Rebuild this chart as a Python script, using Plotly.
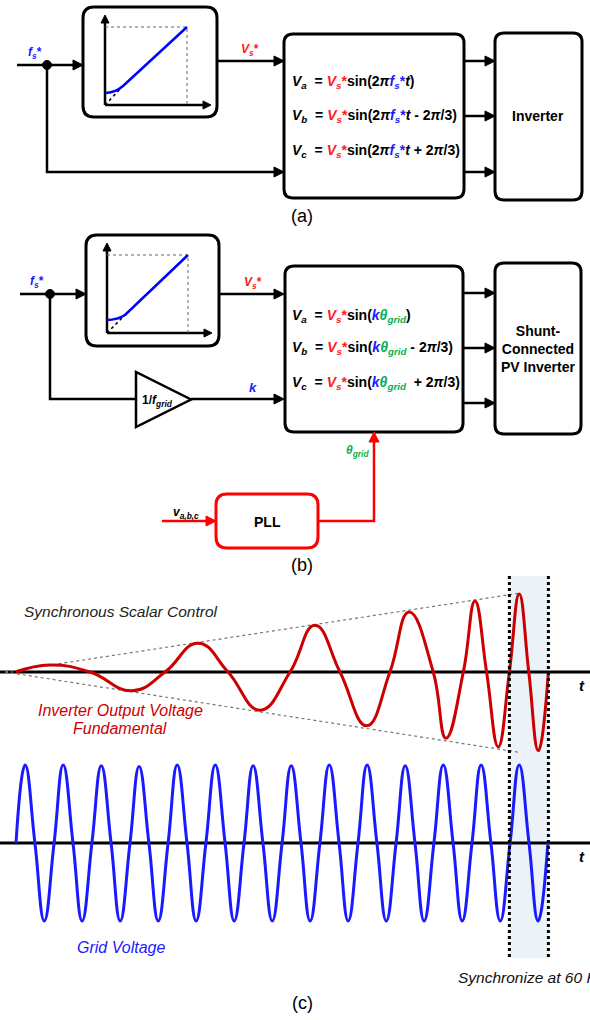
import plotly.graph_objects as go

# ---------------- data for panel (c) ----------------
# time in ms, voltage in per-unit of the grid amplitude
inv_t = [0.0, 14.9, 32.5, 50.9, 65.4, 79.8, 93.0, 107.0, 120.2, 131.1, 142.1, 153.8, 164.0,
         172.4, 183.0, 188.6, 196.2, 201.3, 206.4, 211.5, 216.4, 220.7, 224.9, 229.1, 233.5]
inv_v = [0.0, 0.09, 0.0, -0.24, 0.0, 0.37, 0.0, -0.49, 0.0, 0.60, 0.0, -0.69, 0.0,
         0.77, 0.0, -0.85, 0.0, 0.91, 0.0, -0.96, 0.0, 1.0, 0.0, -1.01, 0.0]

grid_t = [0.0, 4.0, 8.3, 12.4, 16.7, 20.7, 25.0, 29.0, 33.3, 37.4, 41.7, 45.7, 50.0, 54.0,
          58.3, 62.4, 66.7, 70.7, 75.0, 79.0, 83.3, 87.4, 91.7, 95.7, 100.0, 104.0, 108.3,
          112.4, 116.7, 120.7, 125.0, 129.0, 133.3, 137.4, 141.7, 145.7, 150.0, 154.0, 158.3,
          162.4, 166.7, 170.7, 175.0, 179.0, 183.3, 187.4, 191.7, 195.7, 200.0, 204.0, 208.3,
          212.4, 216.7, 220.7, 225.0, 229.0, 233.3]
grid_v = [0.0, 1.0, 0.0, -1.0, 0.0, 1.0, 0.0, -1.0, 0.0, 0.99, 0.0, -1.0, 0.0, 0.98,
          0.0, -1.0, 0.0, 1.0, 0.0, -1.0, 0.0, 1.0, 0.0, -1.0, 0.0, 0.99, 0.0,
          -1.0, 0.0, 0.99, 0.0, -1.0, 0.0, 1.0, 0.0, -1.0, 0.0, 1.0, 0.0,
          -1.0, 0.0, 0.99, 0.0, -1.0, 0.0, 1.0, 0.0, -1.0, 0.0, 1.0, 0.0,
          -1.0, 0.0, 1.0, 0.0, -1.0, 0.0]

env_t = [-4.8, 220.7]
env_upper = [0.0, 1.01]
env_lower = [0.0, -1.03]

sync_window_t = [216.4, 233.5]

W, H = 590, 1020
FONT = "Liberation Sans, Arial, sans-serif"
RED = "#ff1a1a"
BLUE = "#1a1aff"
GREEN = "#00b050"

shapes = []
annos = []


def rrect(x0, y0, x1, y1, r=9, color="black", width=3, fill="white"):
    p = (f"M{x0+r},{y0} L{x1-r},{y0} Q{x1},{y0} {x1},{y0+r} L{x1},{y1-r} "
         f"Q{x1},{y1} {x1-r},{y1} L{x0+r},{y1} Q{x0},{y1} {x0},{y1-r} "
         f"L{x0},{y0+r} Q{x0},{y0} {x0+r},{y0} Z")
    shapes.append(dict(type="path", path=p, xref="x", yref="y",
                       line=dict(color=color, width=width), fillcolor=fill))


def line(pts, color="black", width=2.5, dash="solid"):
    p = "M" + " L".join(f"{x},{y}" for x, y in pts)
    shapes.append(dict(type="path", path=p, xref="x", yref="y",
                       line=dict(color=color, width=width, dash=dash)))


def head(x1, y1, direction, L=10, w=5, color="black"):
    if direction == "r":
        p = f"M{x1},{y1} L{x1-L},{y1-w} L{x1-L},{y1+w} Z"
    else:
        p = f"M{x1},{y1} L{x1-w},{y1+L} L{x1+w},{y1+L} Z"
    shapes.append(dict(type="path", path=p, xref="x", yref="y",
                       line=dict(color=color, width=1), fillcolor=color))


def arrow(pts, color="black", width=2.5, L=10, w=5):
    (xa, ya), (xb, yb) = pts[-2], pts[-1]
    d = "r" if xb > xa else "u"
    if d == "r":
        body = pts[:-1] + [(xb - L + 1, yb)]
    else:
        body = pts[:-1] + [(xb, yb + L - 1)]
    line(body, color=color, width=width)
    head(xb, yb, d, L=L, w=w, color=color)


def dot(x, y, r=4.5):
    shapes.append(dict(type="circle", xref="x", yref="y", x0=x-r, x1=x+r, y0=y-r, y1=y+r,
                       line=dict(color="black", width=1), fillcolor="black"))


def text(x, y, s, size=14, color="black", xanchor="center", yanchor="middle"):
    annos.append(dict(x=x, y=y, xref="x", yref="y", text=s, showarrow=False,
                      xanchor=xanchor, yanchor=yanchor,
                      font=dict(family=FONT, size=size, color=color)))


def mini_plot(ax, ay_bot, ay_top, ax_right, dx, dy, bx0, by0, kx, ky):
    arrow([(ax, ay_bot), (ax, ay_top)], width=2.5, L=8, w=4)
    arrow([(ax, ay_bot), (ax_right, ay_bot)], width=2.5, L=8, w=4)
    line([(ax, dy), (dx, dy), (dx, ay_bot)], color="#666", width=1, dash="dot")
    line([(ax, ay_bot), (kx, ky)], color="black", width=1.5, dash="dot")
    shapes.append(dict(type="path", xref="x", yref="y",
                       path=f"M{bx0},{by0} Q{bx0+10},{by0} {kx},{ky} L{dx},{dy}",
                       line=dict(color="#0000ff", width=2.5)))


def vs():
    return f"<span style='color:{RED}'><i>V<sub>s</sub></i>*</span>"


# ---------------- panel (a) ----------------
arrow([(17, 65), (83, 65)])
rrect(83, 7, 217, 117, r=11)
mini_plot(105, 105, 15, 211, 187, 27, 105, 93, 123, 86)
arrow([(217, 61), (284, 61)])
arrow([(47, 65), (47, 172), (284, 172)])
dot(47, 65)
rrect(284, 34, 464, 198, r=9)
for yy in (61, 116, 172):
    arrow([(464, yy), (495, yy)])
rrect(495, 33, 582, 200, r=9)

text(35, 53, "<b><i>f<sub>s</sub></i>*</b>", size=12, color=BLUE)
text(250, 50, "<b><i>V<sub>s</sub></i>*</b>", size=12, color=RED)
fs = f"<span style='color:{BLUE}'><i>f<sub>s</sub></i>*</span>"
text(290, 82, f"<b><i>V<sub>a</sub></i>  = {vs()}sin(2<i>π</i>{fs}<i>t</i>)</b>", xanchor="left")
text(290, 116, f"<b><i>V<sub>b</sub></i>  = {vs()}sin(2<i>π</i>{fs}<i>t</i> - 2<i>π</i>/3)</b>", xanchor="left")
text(290, 151, f"<b><i>V<sub>c</sub></i>  = {vs()}sin(2<i>π</i>{fs}<i>t</i> + 2<i>π</i>/3)</b>", xanchor="left")
text(538, 116, "<b>Inverter</b>", size=14)
text(302, 216, "(a)", size=18)

# ---------------- panel (b) ----------------
arrow([(20, 294), (86, 294)])
rrect(86, 235, 219, 346, r=11)
mini_plot(107, 333, 243, 212, 188, 255, 107, 320, 125, 315)
arrow([(219, 294), (284, 294)])
line([(50, 294), (50, 399), (136, 399)])
dot(50, 294)
shapes.append(dict(type="path", xref="x", yref="y", path="M136,372 L136,427 L191,399.5 Z",
                   line=dict(color="black", width=2.5), fillcolor="white"))
arrow([(191, 399), (284, 399)])
rrect(285, 266, 463, 432, r=9)
for yy in (293, 348, 403):
    arrow([(463, yy), (495, yy)])
rrect(495, 263, 581, 434, r=9)

rrect(216, 494, 318, 548, r=11, color="#ff0000", width=3)
arrow([(162, 521), (216, 521)], color="#ff0000", width=2.5)
arrow([(318, 521), (374, 521), (374, 432)], color="#ff0000", width=2.5)

text(37, 282, "<b><i>f<sub>s</sub></i>*</b>", size=12, color=BLUE)
text(253, 283, "<b><i>V<sub>s</sub></i>*</b>", size=12, color=RED)
text(253, 387, "<b><i>k</i></b>", size=13, color=BLUE)
text(157, 401, "<b>1/<i>f<sub>grid</sub></i></b>", size=12)
text(357, 451, "<b><i>θ<sub>grid</sub></i></b>", size=12, color=GREEN)
text(186, 513, "<b><i>v<sub>a,b,c</sub></i></b>", size=12)
text(267, 522, "<b>PLL</b>", size=14)
kth = (f"<span style='color:{BLUE}'><i>k</i></span>"
       f"<span style='color:{GREEN}'><i>θ<sub>grid</sub></i></span>")
text(290, 316, f"<b><i>V<sub>a</sub></i>  = {vs()}sin({kth})</b>", xanchor="left")
text(290, 348, f"<b><i>V<sub>b</sub></i>  = {vs()}sin({kth} - 2<i>π</i>/3)</b>", xanchor="left")
text(290, 383, f"<b><i>V<sub>c</sub></i>  = {vs()}sin({kth}  + 2<i>π</i>/3)</b>", xanchor="left")
text(538, 349, "<b>Shunt-<br>Connected<br>PV Inverter</b>", size=14)
text(302, 565, "(b)", size=18)

# ---------------- panel (c) ----------------
shapes.append(dict(type="rect", xref="x2", yref="y", x0=sync_window_t[0], x1=sync_window_t[1],
                   y0=576, y1=958, fillcolor="#ecf3f8", line=dict(width=0), layer="below"))
for tt in sync_window_t:
    shapes.append(dict(type="line", xref="x2", yref="y", x0=tt, x1=tt, y0=576, y1=958,
                       line=dict(color="black", width=3, dash="dot")))
for ya in ("y2", "y3"):
    shapes.append(dict(type="line", xref="paper", yref=ya, x0=0, x1=1, y0=0, y1=0,
                       line=dict(color="black", width=3), layer="below"))

text(22, 611, "<i>Synchronous Scalar Control</i>", size=15.5, color="#222", xanchor="left")
text(120, 710, "<i>Inverter Output Voltage</i>", size=16, color="#cc0000")
text(120, 728, "<i>Fundamental</i>", size=16, color="#cc0000")
text(121, 947, "<i>Grid Voltage</i>", size=16, color=BLUE)
text(456, 977, "<i>Synchronize at 60 Hz</i>", size=15.5, color="#111", xanchor="left")
text(582, 685, "<b><i>t</i></b>", size=15)
text(582, 856, "<b><i>t</i></b>", size=15)
text(302, 1003, "(c)", size=18)

fig = go.Figure()
fig.add_trace(go.Scatter(x=env_t, y=env_upper, xaxis="x2", yaxis="y2", mode="lines",
                         line=dict(color="#777", width=1.2, dash="dot"), hoverinfo="skip"))
fig.add_trace(go.Scatter(x=env_t, y=env_lower, xaxis="x2", yaxis="y2", mode="lines",
                         line=dict(color="#777", width=1.2, dash="dot"), hoverinfo="skip"))
fig.add_trace(go.Scatter(x=inv_t, y=inv_v, xaxis="x2", yaxis="y2", mode="lines",
                         line=dict(color="#cc0000", width=3, shape="spline", smoothing=1.3)))
fig.add_trace(go.Scatter(x=grid_t, y=grid_v, xaxis="x2", yaxis="y3", mode="lines",
                         line=dict(color="#1a1aff", width=3, shape="spline", smoothing=1.3)))

PX_PER_MS = 2.28
T0_PX = 16
PX_PER_PU = 78
RED_BASE, BLUE_BASE = 672, 843

hidden = dict(visible=False, showgrid=False, zeroline=False, fixedrange=True)
fig.update_layout(
    width=W, height=H, margin=dict(l=0, r=0, t=0, b=0),
    paper_bgcolor="white", plot_bgcolor="white", showlegend=False,
    xaxis=dict(range=[0, W], domain=[0, 1], **hidden),
    yaxis=dict(range=[H, 0], domain=[0, 1], **hidden),
    xaxis2=dict(range=[-T0_PX / PX_PER_MS, (W - T0_PX) / PX_PER_MS], overlaying="x",
                anchor="y", **hidden),
    yaxis2=dict(range=[(RED_BASE - H) / PX_PER_PU, RED_BASE / PX_PER_PU], overlaying="y",
                anchor="x", **hidden),
    yaxis3=dict(range=[(BLUE_BASE - H) / PX_PER_PU, BLUE_BASE / PX_PER_PU], overlaying="y",
                anchor="x", **hidden),
    shapes=shapes, annotations=annos,
)
fig.write_html("out.html", config={"displayModeBar": False},
               post_script="document.body.style.margin='0';document.body.style.overflow='hidden';")
